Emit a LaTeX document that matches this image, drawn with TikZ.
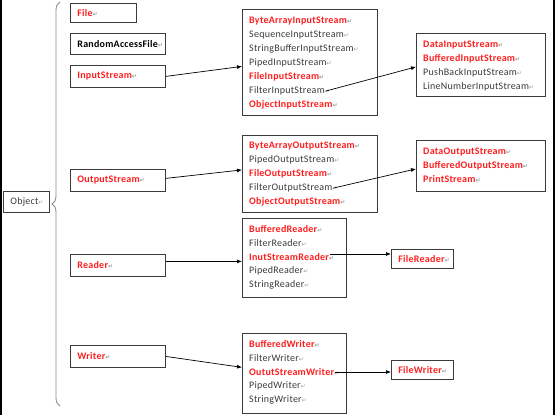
\documentclass[tikz,border=0pt]{standalone}
\usepackage{fontspec}
\setmainfont{Carlito}[LetterSpace=2.5]
\newfontfamily\retfont[Scale=0.6]{DejaVu Sans}
\usetikzlibrary{arrows.meta,decorations.pathreplacing}
\definecolor{jred}{HTML}{FF1E1E}
\definecolor{ink}{HTML}{3A3A3A}
\definecolor{boxline}{HTML}{3C3C3C}
\definecolor{bracegrey}{HTML}{8C8C8C}
\definecolor{markgrey}{HTML}{9A9A9A}
\newcommand{\pmark}{{\retfont\textcolor{markgrey}{\char"21B5}}}
\tikzset{
  cls/.style={rectangle, draw=boxline, line width=0.8pt, anchor=north west,
              align=left, inner xsep=7pt, inner ysep=0pt, text=ink,
              font=\fontsize{10}{12}\selectfont},
  rcls/.style={cls, text=jred, font=\fontsize{10}{12}\selectfont\bfseries},
  grp/.style={rectangle, draw=boxline, line width=0.8pt, anchor=north west, inner sep=0pt},
  rtxt/.style={anchor=west, inner sep=0pt, text=jred, font=\fontsize{10}{12}\selectfont\bfseries},
  gtxt/.style={anchor=west, inner sep=0pt, text=ink, font=\fontsize{10}{12}\selectfont},
  ar/.style={-{Latex[length=5pt,width=4pt]}, line width=0.7pt, draw=black},
}

\begin{document}
\begin{tikzpicture}[x=1pt, y=-1pt]
  \useasboundingbox (0,0) rectangle (555,415);
  \draw[line width=2pt] (1,0) -- (1,415);
  \draw[line width=2pt] (554,0) -- (554,415);

  % root and the brace
  \node[cls, text width=32pt, minimum height=21pt] (obj) at (3,191) {Object\pmark};
  \draw[bracegrey, line width=0.9pt, decorate, decoration={brace, amplitude=8pt}] (60,406) -- (60,2);

  % direct subclasses
  \node[rcls, text width=52pt, minimum height=19pt] (file) at (70,3) {File\pmark};
  \node[cls, text=black, font=\fontsize{10}{12}\selectfont\bfseries, text width=81pt, minimum height=21pt] (raf) at (70,33) {RandomAccessFile\pmark};
  \node[rcls, text width=81pt, minimum height=22pt] (instr) at (70,65) {InputStream\pmark};
  \node[rcls, text width=81pt, minimum height=22pt] (outstr) at (70,169) {OutputStream\pmark};
  \node[rcls, text width=81pt, minimum height=22pt] (rdr) at (70,254) {Reader\pmark};
  \node[rcls, text width=81pt, minimum height=22pt] (wtr) at (70,345) {Writer\pmark};

  % InputStream family
  \node[grp, minimum width=135pt, minimum height=106pt] (insub) at (242,9) {};
  \foreach \s/\t [count=\i] in {rtxt/ByteArrayInputStream, gtxt/SequenceInputStream,
      gtxt/StringBufferInputStream, gtxt/PipedInputStream, rtxt/FileInputStream,
      gtxt/FilterInputStream, rtxt/ObjectInputStream}
    \node[\s] (is\i) at (249, 7+14*\i) {\t\pmark};
  \node[grp, minimum width=129pt, minimum height=63pt] (indata) at (416,33) {};
  \foreach \s/\t [count=\i] in {rtxt/DataInputStream, rtxt/BufferedInputStream,
      gtxt/PushBackInputStream, gtxt/LineNumberInputStream}
    \node[\s] (id\i) at (423, 31+14*\i) {\t\pmark};

  % OutputStream family
  \node[grp, minimum width=135pt, minimum height=77pt] (outsub) at (242,135) {};
  \foreach \s/\t [count=\i] in {rtxt/ByteArrayOutputStream, gtxt/PipedOutputStream,
      rtxt/FileOutputStream, gtxt/FilterOutputStream, rtxt/ObjectOutputStream}
    \node[\s] (os\i) at (249, 132+14*\i) {\t\pmark};
  \node[grp, minimum width=129pt, minimum height=51pt] (outdata) at (416,140) {};
  \foreach \s/\t [count=\i] in {rtxt/DataOutputStream, rtxt/BufferedOutputStream,
      rtxt/PrintStream}
    \node[\s] (od\i) at (423, 138.5+13.5*\i) {\t\pmark};

  % Reader family
  \node[grp, minimum width=104pt, minimum height=79pt] (rdsub) at (242,218) {};
  \foreach \s/\t [count=\i] in {rtxt/BufferedReader, gtxt/FilterReader,
      rtxt/InutStreamReader, gtxt/PipedReader, gtxt/StringReader}
    \node[\s] (rd\i) at (249, 215+14*\i) {\t\pmark};
  \node[rcls, text width=48pt, minimum height=19pt] (frd) at (391,249) {FileReader\pmark};

  % Writer family
  \node[grp, minimum width=104pt, minimum height=80pt] (wrsub) at (242,333) {};
  \foreach \s/\t [count=\i] in {rtxt/BufferedWriter, gtxt/FilterWriter,
      rtxt/OututStreamWriter, gtxt/PipedWriter, gtxt/StringWriter}
    \node[\s] (wr\i) at (249, 330+14*\i) {\t\pmark};
  \node[rcls, text width=48pt, minimum height=19pt] (fwr) at (391,360) {FileWriter\pmark};

  \draw[ar] (instr.east) -- ([yshift=-4pt]insub.west);
  \draw[ar] ([yshift=2pt]outstr.east) -- ([yshift=4pt]outsub.west);
  \draw[ar] ([yshift=4pt]rdr.east) -- ([yshift=4pt]rdr.east -| rdsub.west);
  \draw[ar] (wtr.east) -- ([yshift=6pt]wrsub.west);
  \draw[ar] ([xshift=-4pt]is6.east) -- ([yshift=-2pt]indata.west);
  \draw[ar] ([xshift=-4pt]os4.east) -- ([yshift=-3pt]outdata.west);
  \draw[ar] ([xshift=-4pt,yshift=3pt]rd3.east) -- ([yshift=3pt]rd3.east -| frd.west);
  \draw[ar] ([xshift=-4pt]wr3.east) -- (wr3.east -| fwr.west);
\end{tikzpicture}
\end{document}
